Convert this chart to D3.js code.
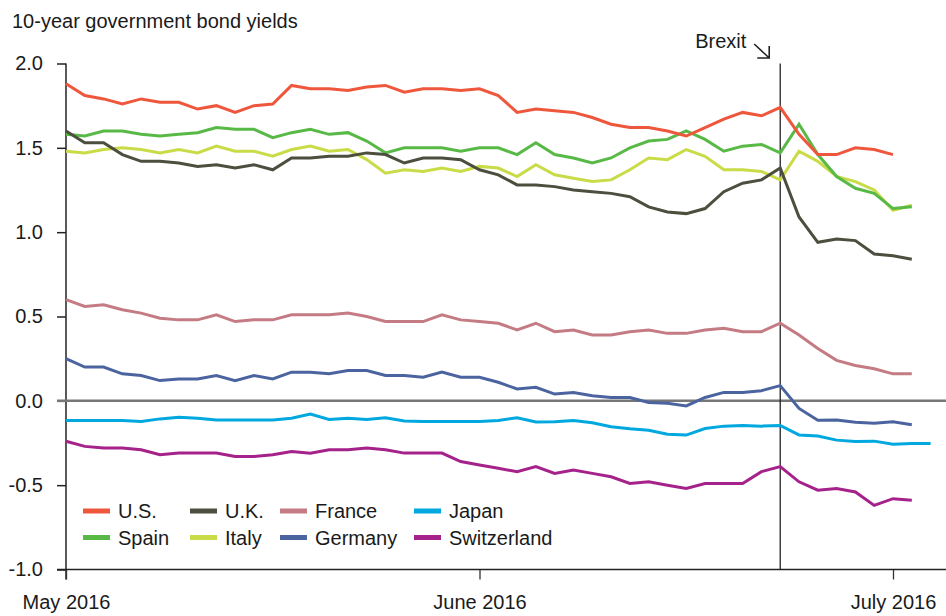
<!DOCTYPE html>
<html>
<head>
<meta charset="utf-8">
<script src="https://d3js.org/d3.v7.min.js"></script>
<style>
  body { margin: 0; background: #fff; }
  text { font-family: "Liberation Sans", Arial, Helvetica, sans-serif; fill: #1a1a1a; }
</style>
</head>
<body>
<div id="chart"></div>
<script>
// Tick labels (x ticks sit on business-day index 0, 22, 44)
const xTickIdx = [0, 22, 44];
const xTickLabels = ["May 2016", "June 2016", "July 2016"];
const yTicks = [2.0, 1.5, 1.0, 0.5, 0.0, -0.5, -1.0];
const brexitIdx = 38; // June 23, 2016

// Series names and colours
const names = ["U.S.", "U.K.", "France", "Japan", "Spain", "Italy", "Germany", "Switzerland"];
const colors = ["#ef573d", "#4c4e3e", "#c47b83", "#00a8df", "#58b947", "#cadb48", "#4b64a0", "#a5228a"];

// Daily yields, one value per business day starting May 2, 2016
const us = [1.88, 1.81, 1.79, 1.76, 1.79, 1.77, 1.77, 1.73, 1.75, 1.71, 1.75, 1.76, 1.87, 1.85, 1.85,
  1.84, 1.86, 1.87, 1.83, 1.85, 1.85, 1.84, 1.85, 1.81, 1.71, 1.73, 1.72, 1.71, 1.68, 1.64,
  1.62, 1.62, 1.60, 1.57, 1.62, 1.67, 1.71, 1.69, 1.74, 1.58, 1.46, 1.46, 1.50, 1.49, 1.46];
const uk = [1.60, 1.53, 1.53, 1.46, 1.42, 1.42, 1.41, 1.39, 1.40, 1.38, 1.40, 1.37, 1.44, 1.44, 1.45,
  1.45, 1.47, 1.46, 1.41, 1.44, 1.44, 1.43, 1.37, 1.34, 1.28, 1.28, 1.27, 1.25, 1.24, 1.23,
  1.21, 1.15, 1.12, 1.11, 1.14, 1.24, 1.29, 1.31, 1.38, 1.09, 0.94, 0.96, 0.95, 0.87, 0.86, 0.84];
const france = [0.60, 0.56, 0.57, 0.54, 0.52, 0.49, 0.48, 0.48, 0.51, 0.47, 0.48, 0.48, 0.51, 0.51, 0.51,
  0.52, 0.50, 0.47, 0.47, 0.47, 0.51, 0.48, 0.47, 0.46, 0.42, 0.46, 0.41, 0.42, 0.39, 0.39,
  0.41, 0.42, 0.40, 0.40, 0.42, 0.43, 0.41, 0.41, 0.46, 0.39, 0.31, 0.24, 0.21, 0.19, 0.16, 0.16];
const japan = [-0.116, -0.116, -0.116, -0.116, -0.122, -0.107, -0.097, -0.103, -0.114, -0.114, -0.114, -0.114, -0.103, -0.079, -0.110,
  -0.103, -0.110, -0.101, -0.120, -0.122, -0.122, -0.122, -0.122, -0.116, -0.101, -0.126, -0.124, -0.116, -0.130, -0.154,
  -0.166, -0.174, -0.198, -0.203, -0.164, -0.150, -0.146, -0.150, -0.146, -0.202, -0.209, -0.233, -0.241, -0.239, -0.258, -0.253, -0.253];
const spain = [1.58, 1.57, 1.60, 1.60, 1.58, 1.57, 1.58, 1.59, 1.62, 1.61, 1.61, 1.56, 1.59, 1.61, 1.58,
  1.59, 1.54, 1.47, 1.50, 1.50, 1.50, 1.48, 1.50, 1.50, 1.46, 1.53, 1.46, 1.44, 1.41, 1.44,
  1.50, 1.54, 1.55, 1.60, 1.55, 1.48, 1.51, 1.52, 1.47, 1.64, 1.46, 1.33, 1.26, 1.23, 1.14, 1.15];
const italy = [1.48, 1.47, 1.49, 1.50, 1.49, 1.47, 1.49, 1.47, 1.51, 1.48, 1.48, 1.45, 1.49, 1.51, 1.48,
  1.49, 1.43, 1.35, 1.37, 1.36, 1.38, 1.36, 1.39, 1.38, 1.33, 1.40, 1.34, 1.32, 1.30, 1.31,
  1.37, 1.44, 1.43, 1.49, 1.45, 1.37, 1.37, 1.36, 1.31, 1.48, 1.42, 1.33, 1.30, 1.25, 1.13, 1.16];
const germany = [0.25, 0.20, 0.20, 0.16, 0.15, 0.12, 0.13, 0.13, 0.15, 0.12, 0.15, 0.13, 0.17, 0.17, 0.16,
  0.18, 0.18, 0.15, 0.15, 0.14, 0.17, 0.14, 0.14, 0.11, 0.07, 0.08, 0.04, 0.05, 0.03, 0.02,
  0.02, -0.01, -0.015, -0.03, 0.02, 0.05, 0.05, 0.06, 0.09, -0.045, -0.115, -0.113, -0.127, -0.133, -0.124, -0.142];
const switzerland = [-0.24, -0.27, -0.28, -0.28, -0.29, -0.32, -0.31, -0.31, -0.31, -0.33, -0.33, -0.32, -0.30, -0.31, -0.29,
  -0.29, -0.28, -0.29, -0.31, -0.31, -0.31, -0.36, -0.38, -0.40, -0.42, -0.39, -0.43, -0.41, -0.43, -0.45,
  -0.49, -0.48, -0.50, -0.52, -0.49, -0.49, -0.49, -0.42, -0.39, -0.48, -0.53, -0.52, -0.54, -0.62, -0.58, -0.59];

const seriesValues = [us, uk, france, japan, spain, italy, germany, switzerland];
// drawing order so that green sits over yellow like in the original
const drawOrder = [5, 4, 0, 1, 2, 6, 3, 7];

const width = 946;
const height = 616;

const svg = d3.select("#chart")
  .append("svg")
  .attr("width", width)
  .attr("height", height);

const x = d3.scaleLinear().domain([0, 44]).range([66, 893]);
const y = d3.scaleLinear().domain([-1, 2]).range([569.5, 63.5]);

// Title
svg.append("text")
  .attr("x", 12)
  .attr("y", 28)
  .style("font-size", "20px")
  .text("10-year government bond yields");

// Y axis (ticks to the left, no domain path)
const yAxis = d3.axisLeft(y)
  .tickValues(yTicks)
  .tickSize(9)
  .tickPadding(14)
  .tickFormat(d => d.toFixed(1));

const yAxisG = svg.append("g")
  .attr("transform", "translate(66,0)")
  .call(yAxis);
yAxisG.select(".domain").remove();
yAxisG.selectAll(".tick line").attr("stroke", "#222").attr("stroke-width", 1.5);
yAxisG.selectAll(".tick text")
  .style("font-size", "20px")
  .attr("fill", "#1a1a1a")
  .style("font-family", "'Liberation Sans', Arial, sans-serif");

// vertical axis line
svg.append("line")
  .attr("x1", 66).attr("x2", 66)
  .attr("y1", y(2)).attr("y2", y(-1) + 10)
  .attr("stroke", "#222")
  .attr("stroke-width", 1.5);

// X axis along the bottom
const xAxis = d3.axisBottom(x)
  .tickValues(xTickIdx)
  .tickSize(10)
  .tickPadding(15)
  .tickFormat((d, i) => xTickLabels[i]);

const xAxisG = svg.append("g")
  .attr("transform", `translate(0,${y(-1)})`)
  .call(xAxis);
xAxisG.select(".domain").remove();
xAxisG.selectAll(".tick line").attr("stroke", "#333").attr("stroke-width", 1.3);
xAxisG.selectAll(".tick text")
  .style("font-size", "20px")
  .attr("fill", "#1a1a1a")
  .style("font-family", "'Liberation Sans', Arial, sans-serif");

svg.append("line")
  .attr("x1", 57).attr("x2", width)
  .attr("y1", y(-1)).attr("y2", y(-1))
  .attr("stroke", "#222")
  .attr("stroke-width", 1.5);

// Zero line
svg.append("line")
  .attr("x1", 57).attr("x2", width)
  .attr("y1", y(0)).attr("y2", y(0))
  .attr("stroke", "#777")
  .attr("stroke-width", 2.5);

// Brexit marker
svg.append("line")
  .attr("x1", x(brexitIdx)).attr("x2", x(brexitIdx))
  .attr("y1", y(2)).attr("y2", y(-1))
  .attr("stroke", "#222")
  .attr("stroke-width", 1.3);

svg.append("text")
  .attr("x", x(brexitIdx) - 85)
  .attr("y", 48)
  .style("font-size", "20px")
  .text("Brexit");

const ax = x(brexitIdx) - 11;
svg.append("path")
  .attr("d", `M${ax - 15},44 L${ax},58 M${ax - 12},58 L${ax},58 L${ax},46`)
  .attr("fill", "none")
  .attr("stroke", "#222")
  .attr("stroke-width", 1.6);

// Lines
const line = d3.line()
  .x((d, i) => x(i))
  .y(d => y(d));

svg.append("g")
  .selectAll("path")
  .data(drawOrder)
  .join("path")
  .attr("d", k => line(seriesValues[k]))
  .attr("fill", "none")
  .attr("stroke", k => colors[k])
  .attr("stroke-width", 3);

// Legend: 4 columns x 2 rows
const legendCols = [83, 190, 280, 414];
const legendRows = [511, 537.5];
const legend = svg.append("g");
names.forEach((name, k) => {
  const cx = legendCols[k % 4];
  const cy = legendRows[Math.floor(k / 4)];
  legend.append("rect")
    .attr("x", cx)
    .attr("y", cy - 2.5)
    .attr("width", 27)
    .attr("height", 5)
    .attr("fill", colors[k]);
  legend.append("text")
    .attr("x", cx + 35)
    .attr("y", cy)
    .attr("dy", "0.36em")
    .style("font-size", "20px")
    .text(name);
});
</script>
</body>
</html>
